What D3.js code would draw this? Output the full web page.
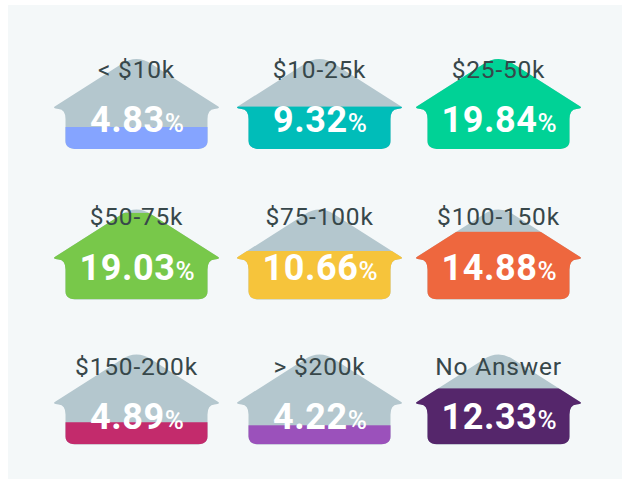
<!DOCTYPE html>
<html>
<head>
<meta charset="utf-8">
<script src="https://cdn.jsdelivr.net/npm/d3@7"></script>
<style>
  html, body { margin: 0; padding: 0; background: #fff; }
  text { font-family: Roboto, sans-serif; }
</style>
</head>
<body>
<script>
// Chart data
var categories = ["< $10k", "$10-25k", "$25-50k", "$50-75k", "$75-100k", "$100-150k", "$150-200k", "> $200k", "No Answer"];
var values = [4.83, 9.32, 19.84, 19.03, 10.66, 14.88, 4.89, 4.22, 12.33];
var colors = ["#85a4ff", "#00bdb9", "#00d296", "#78c84a", "#f6c43b", "#ee673e", "#c32b6c", "#9b51bb", "#55266b"];

var svgWidth = 622;
var svgHeight = 479;

var svg = d3.select("body")
  .append("svg")
  .attr("width", svgWidth)
  .attr("height", svgHeight)
  .style("display", "block");

// Panel behind the houses
svg.append("rect")
  .attr("x", 8)
  .attr("y", 5)
  .attr("width", 614)
  .attr("height", 474)
  .attr("fill", "#f4f8f9");

// Grid positions, columns and rows are not evenly spaced in the original
var colX = d3.scaleOrdinal().domain([0, 1, 2]).range([136.5, 319.5, 498.5]);
var rowBottom = d3.scaleOrdinal().domain([0, 1, 2]).range([149, 299.5, 444.5]);
var labelY = d3.scaleOrdinal().domain([0, 1, 2]).range([-71, -74.5, -70]);
var valueY = d3.scaleOrdinal().domain([0, 1, 2]).range([-17.5, -19.5, -16]);

var houseHeight = 91;

// Fill height: the full house is about 20 percent
var fillScale = d3.scaleLinear().domain([0, 20]).range([0, houseHeight]);

// House outline, origin at bottom centre
var housePath = "M-71,-8 L-71,-30 Q-71,-39.5 -78,-40 L-81,-40.5 Q-84,-41.5 -81,-43 L-15,-85 Q0,-95 15,-85 L81,-43 Q84,-41.5 81,-40.5 L78,-40 Q71,-39.5 71,-30 L71,-8 Q71,0 59,0 L-59,0 Q-71,0 -71,-8 Z";

var defs = svg.append("defs");
defs.append("clipPath")
  .attr("id", "house-clip")
  .append("path")
  .attr("d", housePath);

var houses = svg.selectAll("g.house")
  .data(categories)
  .enter()
  .append("g")
  .attr("class", "house")
  .attr("transform", (d, i) => `translate(${colX(i % 3)}, ${rowBottom(Math.floor(i / 3))})`);

houses.append("path")
  .attr("d", housePath)
  .attr("fill", "#b4c7ce");

// Coloured level, clipped to the house
houses.append("g")
  .attr("clip-path", "url(#house-clip)")
  .append("rect")
  .attr("x", -90)
  .attr("width", 180)
  .attr("y", (d, i) => -fillScale(values[i]))
  .attr("height", (d, i) => fillScale(values[i]))
  .attr("fill", (d, i) => colors[i]);

houses.append("text")
  .attr("y", (d, i) => labelY(Math.floor(i / 3)))
  .attr("text-anchor", "middle")
  .attr("font-size", 24.5)
  .attr("letter-spacing", 0.8)
  .attr("fill", "#37474a")
  .text(d => d);

var valueText = houses.append("text")
  .attr("x", 0.5)
  .attr("y", (d, i) => valueY(Math.floor(i / 3)))
  .attr("text-anchor", "middle")
  .attr("fill", "#fff")
  .attr("font-weight", 700);

valueText.append("tspan")
  .attr("font-size", 36)
  .attr("letter-spacing", 0.6)
  .text((d, i) => values[i].toFixed(2));

valueText.append("tspan")
  .attr("font-size", 26)
  .attr("font-weight", 500)
  .text("%");
</script>
</body>
</html>
